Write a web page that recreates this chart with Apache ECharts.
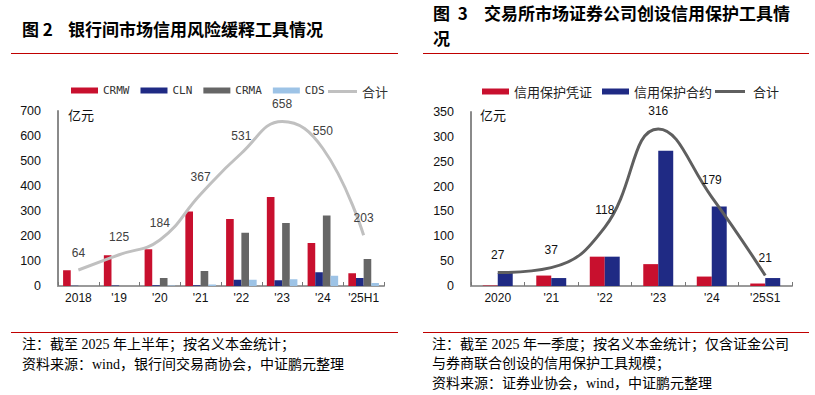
<!DOCTYPE html>
<html><head><meta charset="utf-8">
<script src="https://cdn.jsdelivr.net/npm/echarts@6/dist/echarts.min.js"></script>
<style>html,body{margin:0;padding:0;background:#fff}#c{width:815px;height:395px}</style>
</head><body><div id="c"></div>
<script>
// ---- Left chart data (亿元) ----
const leftCats = ['2018', "'19", "'20", "'21", "'22", "'23", "'24", "'25H1"];
const crmw = [63, 123, 147, 298, 268, 356, 172, 51];
const cln  = [1, 2, 3, 3, 25, 23, 55, 32];
const crma = [0, 0, 32, 60, 213, 252, 282, 108];
const cds  = [0, 0, 2, 6, 25, 27, 41, 12];
const leftTotal = [64, 125, 184, 367, 531, 658, 550, 203];
const leftSeriesNames = ['CRMW', 'CLN', 'CRMA', 'CDS', '合计'];
const leftTicks = {min: 0, max: 700, interval: 100};

// ---- Right chart data (亿元) ----
const rightCats = ['2020', "'21", "'22", "'23", "'24", "'25S1"];
const pzCert = [1, 21, 59, 44, 19, 5];
const pzContract = [26, 16, 59, 272, 160, 16];
const rightTotal = [27, 37, 118, 316, 179, 21];
const rightSeriesNames = ['信用保护凭证', '信用保护合约', ' 合计'];
const rightTicks = {min: 0, max: 350, interval: 50};

// ---- Text ----
const leftTitleNo = '图 2';
const leftTitle = '银行间市场信用风险缓释工具情况';
const rightTitleNo = '图  3';
const rightTitle1 = '交易所市场证券公司创设信用保护工具情';
const rightTitle2 = '况';
const unitText = '亿元';
const leftNotes = ['注：截至 2025 年上半年；按名义本金统计；', '资料来源：wind，银行间交易商协会，中证鹏元整理'];
const rightNotes = ['注：截至 2025 年一季度；按名义本金统计；仅含证金公司', '与券商联合创设的信用保护工具规模；', '资料来源：证券业协会，wind，中证鹏元整理'];

const RED = '#C8102E', NAVY = '#1F2A84', DGRAY = '#666666', LBLUE = '#9DC3E6';
const LINE_L = '#C0C0C0', LINE_R = '#5f5f5f';
const NUM_FONT = '"Liberation Sans", Arial, sans-serif';
const CJK = '"Noto Sans CJK SC", sans-serif';
const NOTE_FONT = '"Liberation Serif", "Noto Sans CJK SC", serif';

const chart = echarts.init(document.getElementById('c'), null, {renderer: 'svg'});

function txt(text, x, y, size, family, weight, color) {
  return {type: 'text', silent: true, style: {text: text, x: x, y: y, fontSize: size, fontFamily: family, fontWeight: weight || 'normal', fill: color || '#000', verticalAlign: 'middle', align: 'left'}};
}
function titleText(x, y, noW, text, lh) {
  const base = {fontSize: 17, fontFamily: CJK, fontWeight: 'bold', color: '#000', lineHeight: lh};
  return {type: 'text', silent: true, style: {text: text, x: x, y: y, verticalAlign: 'top', align: 'left',
    fontSize: 17, fontFamily: CJK, fontWeight: 'bold', fill: '#000', lineHeight: lh,
    rich: {a: Object.assign({width: noW}, base), b: base}}};
}
function hline(x1, x2, y, color, w) {
  return {type: 'line', silent: true, shape: {x1: x1, y1: y, x2: x2, y2: y}, style: {stroke: color, lineWidth: w}};
}

const graphics = [
  titleText(22, 18, 46, '{a|' + leftTitleNo + '}{b|' + leftTitle + '}', 20),
  titleText(433, 0, 51, '{a|' + rightTitleNo + '}{b|' + rightTitle1 + '}\n{b|' + rightTitle2 + '}', 25),
  hline(11, 398, 53.5, '#C00000', 1.2),
  hline(423, 809, 53.5, '#C00000', 1.2),
  hline(11, 398, 332.5, '#C00000', 1.2),
  hline(423, 809, 332.5, '#C00000', 1.2),
  txt(unitText, 68, 114, 13, CJK, 'normal', '#111'),
  txt(unitText, 480, 114, 13, CJK, 'normal', '#111')
];
leftNotes.forEach((t, i) => graphics.push(txt(t, 22, 344 + i * 20, 14, NOTE_FONT)));
rightNotes.forEach((t, i) => graphics.push(txt(t, 432, 344 + i * 19.5, 14, NOTE_FONT)));

function yAxisDef(grid, ticks) {
  return {
    type: 'value', gridIndex: grid, min: ticks.min, max: ticks.max, interval: ticks.interval,
    axisLine: {show: true, lineStyle: {color: '#8a8a8a', width: 2}},
    axisTick: {show: false}, splitLine: {show: false},
    axisLabel: {fontSize: 12.5, fontFamily: NUM_FONT, color: '#111', margin: 17}
  };
}
function xAxisDef(grid, cats) {
  return {
    type: 'category', gridIndex: grid, data: cats,
    axisLine: {lineStyle: {color: '#9a9a9a', width: 2}},
    axisTick: {show: true, inside: true, length: 4, lineStyle: {color: '#777', width: 1}},
    axisLabel: {fontSize: 12, fontFamily: NUM_FONT, color: '#111', margin: 6}
  };
}
function barS(name, data, color, xi, gap) {
  return {name: name, type: 'bar', xAxisIndex: xi, yAxisIndex: xi, data: data, barGap: '0%', barCategoryGap: gap,
    itemStyle: {color: color}};
}
function lineS(name, data, color, xi, w, labelColor) {
  return {name: name, type: 'line', xAxisIndex: xi, yAxisIndex: xi, data: data, smooth: 0.45,
    symbol: 'circle', symbolSize: 1, showSymbol: true,
    lineStyle: {color: color, width: w}, itemStyle: {color: 'rgba(0,0,0,0)'}, z: 5,
    label: {show: true, position: 'top', distance: 11, fontSize: 12, fontFamily: NUM_FONT, color: labelColor}};
}

const legendBase = {itemWidth: 27, itemHeight: 6, top: 80};
const option = {
  animation: false,
  backgroundColor: '#fff',
  graphic: graphics,
  legend: [
    Object.assign({data: leftSeriesNames.slice(0, 4), icon: 'rect', left: 66, itemGap: 11,
      textStyle: {fontSize: 11, fontFamily: '"DejaVu Sans Mono", monospace', color: '#333'}}, legendBase),
    Object.assign({}, legendBase, {data: [leftSeriesNames[4]], icon: 'rect', left: 323, itemWidth: 29, itemHeight: 3,
      itemStyle: {color: LINE_L}, textStyle: {fontSize: 13, fontFamily: CJK, color: '#333'}}),
    Object.assign({data: rightSeriesNames.slice(0, 2), icon: 'rect', left: 477, itemGap: 10,
      textStyle: {fontSize: 13, fontFamily: CJK, color: '#222'}}, legendBase),
    Object.assign({}, legendBase, {data: [rightSeriesNames[2]], icon: 'rect', left: 710, itemWidth: 30, itemHeight: 3,
      itemStyle: {color: LINE_R}, textStyle: {fontSize: 13, fontFamily: CJK, color: '#222'}})
  ],
  grid: [
    {left: 58, top: 111, width: 326, height: 175},
    {left: 471, top: 112, width: 321, height: 174}
  ],
  xAxis: [xAxisDef(0, leftCats), xAxisDef(1, rightCats)],
  yAxis: [yAxisDef(0, leftTicks), yAxisDef(1, rightTicks)],
  series: [
    barS(leftSeriesNames[0], crmw, RED, 0, '25%'),
    barS(leftSeriesNames[1], cln, NAVY, 0, '25%'),
    barS(leftSeriesNames[2], crma, DGRAY, 0, '25%'),
    barS(leftSeriesNames[3], cds, LBLUE, 0, '25%'),
    lineS(leftSeriesNames[4], leftTotal, LINE_L, 0, 3, '#404040'),
    barS(rightSeriesNames[0], pzCert, RED, 1, '44%'),
    barS(rightSeriesNames[1], pzContract, NAVY, 1, '44%'),
    lineS(rightSeriesNames[2], rightTotal, LINE_R, 1, 3, '#111')
  ]
};
chart.setOption(option);
</script>
</body></html>
